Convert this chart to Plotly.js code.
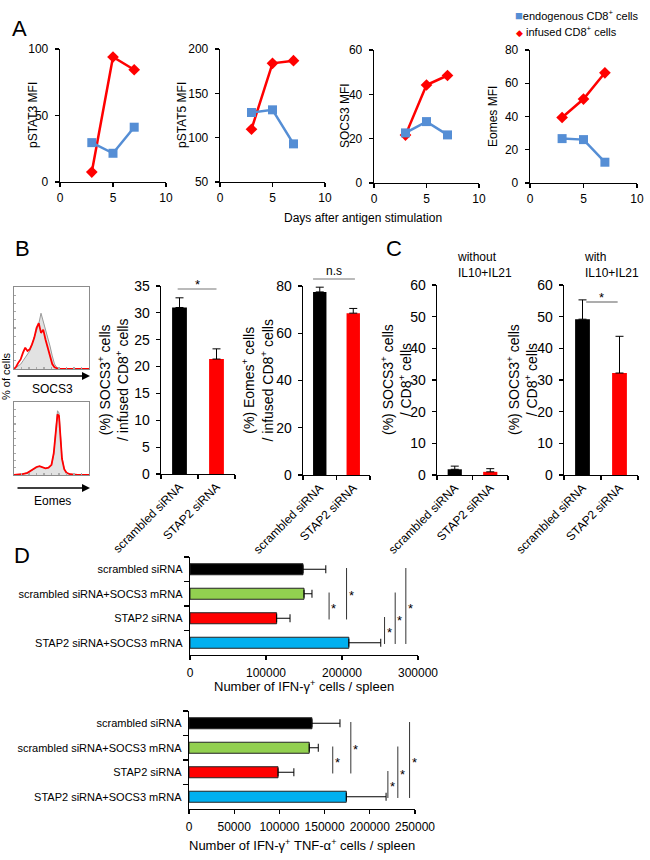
<!DOCTYPE html>
<html>
<head>
<meta charset="utf-8">
<script src="https://cdn.plot.ly/plotly-3.0.1.min.js"></script>
<style>
  html, body { margin: 0; padding: 0; background: #fff; }
  #fig { width: 650px; height: 860px; }
</style>
</head>
<body>
<div id="fig"></div>
<script>
// ---------- DATA ----------
// A: MFI over days after antigen stimulation
const days = [3, 5, 7];
const pstat3Endo = [29.6, 21.6, 41.2];
const pstat3Inf  = [7.5, 94, 84.4];
const pstat5Endo = [128.4, 131.4, 93];
const pstat5Inf  = [109.5, 183.8, 186.8];
const socs3Endo  = [22.6, 27.7, 21.7];
const socs3Inf   = [21.6, 44.2, 48.5];
const eomesEndo  = [26.7, 26.1, 12.5];
const eomesInf   = [39.4, 50.5, 66.3];

// B / C: % positive cells
const sirnaGroups  = ["scrambled siRNA", "STAP2 siRNA"];
const socs3Pct     = [31.0, 21.4];
const socs3PctErr  = [1.8, 1.9];
const eomesPct     = [77.5, 68.5];
const eomesPctErr  = [2.0, 2.0];
const withoutIL    = [1.8, 1.0];
const withoutILErr = [1.0, 1.0];
const withIL       = [49.2, 32.2];
const withILErr    = [6.1, 11.6];

// B: flow histograms (relative counts)
const histSocs3X    = [0, 3, 6, 9, 12, 15, 18, 21, 24, 27, 30, 33, 36, 39, 42, 45, 48, 51, 54, 57, 60, 100];
const histSocs3Ctrl = [0, 2, 4, 6, 10, 14, 18, 22, 30, 38, 45, 55, 68, 58, 50, 40, 28, 16, 6, 2, 0, 0];
const histSocs3Kd   = [0, 3, 8, 12, 20, 26, 22, 24, 30, 38, 50, 56, 44, 48, 36, 26, 14, 6, 2, 1, 0, 0];
const histEomesX    = [0, 10, 18, 24, 30, 34, 38, 42, 46, 50, 53, 56, 58, 60, 62, 64, 67, 70, 75, 85, 100];
const histEomesCtrl = [0, 1, 3, 7, 10, 12, 10, 9, 10, 14, 28, 60, 88, 85, 55, 24, 8, 3, 1, 0, 0];
const histEomesKd   = [0, 1, 3, 7, 11, 12, 10, 9, 10, 14, 30, 62, 83, 81, 50, 22, 8, 3, 1, 0, 0];

// D: cells per spleen
const dGroups      = ["scrambled siRNA", "scrambled siRNA+SOCS3 mRNA", "STAP2 siRNA", "STAP2 siRNA+SOCS3 mRNA"];
const ifngCells    = [148700, 150000, 114000, 209000];
const ifngErr      = [30000, 10500, 17600, 42000];
const ifngTnfCells = [136000, 133000, 98500, 174000];
const ifngTnfErr   = [31000, 10000, 17500, 44000];

// significance brackets in D: [row a, row b, x level]
const ifngSig    = [[1, 2, 183000], [0, 2, 206000], [2, 3, 256000], [1, 3, 270000], [0, 3, 284000]];
const ifngTnfSig = [[1, 2, 159000], [0, 2, 179000], [2, 3, 220000], [1, 3, 231000], [0, 3, 244000]];

// ---------- LAYOUT HELPERS ----------
const W = 650, H = 860;
const BLUE = "#558ED5", RED = "#FF0000", GREEN = "#92D050", CYAN = "#00B0F0";
const FONT = "Liberation Sans, Arial, sans-serif";

// subplot boxes in px: [left, right, top, bottom]
const sub = {
  1:  { box: [60, 166, 49, 182],  xr: [0, 10], yr: [0, 100] },
  2:  { box: [220, 325, 49, 182], xr: [0, 10], yr: [50, 200] },
  3:  { box: [374, 479, 50, 183], xr: [0, 10], yr: [0, 60] },
  4:  { box: [530, 637, 50, 183], xr: [0, 10], yr: [0, 80] },
  5:  { box: [14, 89, 287, 369],  xr: [0, 100], yr: [0, 100] },
  6:  { box: [14, 89, 402, 475],  xr: [0, 100], yr: [0, 100] },
  7:  { box: [161, 235, 286, 474], xr: [-0.5, 1.5], yr: [0, 35] },
  8:  { box: [303, 370, 286, 475], xr: [-0.5, 1.5], yr: [0, 80] },
  9:  { box: [437, 508, 285, 475], xr: [-0.5, 1.5], yr: [0, 60] },
  10: { box: [564, 638, 285, 475], xr: [-0.5, 1.5], yr: [0, 60] },
  11: { box: [190, 418, 557, 655], xr: [0, 300000], yr: [3.5, -0.5] },
  12: { box: [189, 415, 711, 809], xr: [0, 250000], yr: [3.5, -0.5] }
};
const lin = (v, r0, r1, p0, p1) => p0 + (v - r0) / (r1 - r0) * (p1 - p0);
const pX = (n, v) => lin(v, sub[n].xr[0], sub[n].xr[1], sub[n].box[0], sub[n].box[1]) / W;
const pY = (n, v) => 1 - lin(v, sub[n].yr[0], sub[n].yr[1], sub[n].box[3], sub[n].box[2]) / H;
const fx = p => p / W, fy = p => 1 - p / H;

const layout = {
  width: W, height: H,
  margin: { l: 0, r: 0, t: 0, b: 0 },
  paper_bgcolor: "#fff", plot_bgcolor: "rgba(0,0,0,0)",
  font: { family: FONT, color: "#000", size: 12 },
  showlegend: false,
  bargap: 0.6,
  annotations: [], shapes: []
};

function axes(n, xo, yo){
  const s = sub[n], k = n === 1 ? "" : n;
  const base = { showgrid: false, zeroline: false, showline: true, linecolor: "#000", linewidth: 1.3,
                 ticks: "outside", ticklen: 4, tickcolor: "#000", tickwidth: 1.2, tickangle: 0,
                 tickfont: { size: 12, color: "#000", family: FONT }, fixedrange: true };
  layout["xaxis" + k] = Object.assign({}, base, { domain: [s.box[0] / W, s.box[1] / W], range: s.xr, anchor: "y" + k }, xo);
  layout["yaxis" + k] = Object.assign({}, base, { domain: [1 - s.box[3] / H, 1 - s.box[2] / H], range: s.yr, anchor: "x" + k }, yo);
}
const ax = n => n === 1 ? ["x", "y"] : ["x" + n, "y" + n];

function note(x, y, text, o){
  layout.annotations.push(Object.assign({ xref: "paper", yref: "paper", x: x, y: y, text: text,
    xanchor: "center", yanchor: "middle",
    showarrow: false, font: { size: 12, family: FONT, color: "#000" } }, o));
}
function line(x0, y0, x1, y1, color, width){
  layout.shapes.push({ type: "line", xref: "paper", yref: "paper", x0: x0, y0: y0, x1: x1, y1: y1,
    line: { color: color || "#000", width: width || 1 } });
}

// ---------- A ----------
const traces = [];
const aPanels = [
  [1, pstat3Endo, pstat3Inf, 50],
  [2, pstat5Endo, pstat5Inf, 50],
  [3, socs3Endo, socs3Inf, 20],
  [4, eomesEndo, eomesInf, 20]
];
aPanels.forEach(([n, endo, inf, dt]) => {
  axes(n, { dtick: 5 }, { dtick: dt, ticklabelstandoff: 4 });
  const [xa, ya] = ax(n);
  traces.push({ x: days, y: inf, xaxis: xa, yaxis: ya, mode: "lines+markers", cliponaxis: false,
    line: { color: RED, width: 2.5 }, marker: { symbol: "diamond", size: 9, color: RED } });
  traces.push({ x: days, y: endo, xaxis: xa, yaxis: ya, mode: "lines+markers", cliponaxis: false,
    line: { color: BLUE, width: 2.5 }, marker: { symbol: "square", size: 9, color: BLUE } });
});
note(fx(19), fy(28), "A", { font: { size: 22, family: FONT } });
note(fx(33), fy(115), "pSTAT3 MFI", { textangle: -90 });
note(fx(182), fy(115), "pSTAT5 MFI", { textangle: -90 });
note(fx(345), fy(116), "SOCS3 MFI", { textangle: -90 });
note(fx(493), fy(116), "Eomes MFI", { textangle: -90 });
note(fx(363), fy(218), "Days after antigen stimulation");
note(fx(513), fy(15), '<span style="color:' + BLUE + ';font-size:13px">■</span>endogenous CD8<sup>+</sup> cells',
  { xanchor: "left", font: { size: 11, family: FONT } });
note(fx(514), fy(31), '<span style="color:' + RED + ';font-size:9px">◆</span> infused CD8<sup>+</sup> cells',
  { xanchor: "left", font: { size: 11, family: FONT } });

// ---------- B: histograms ----------
const histAxis = { showline: true, mirror: true, linecolor: "#8c8c8c", linewidth: 1, ticks: "inside",
                   ticklen: 2, tickcolor: "#aaa", dtick: 10, showticklabels: false };
axes(5, histAxis, histAxis);
axes(6, histAxis, histAxis);
[[5, histSocs3X, histSocs3Ctrl, histSocs3Kd], [6, histEomesX, histEomesCtrl, histEomesKd]].forEach(([n, hx, ctrl, kd]) => {
  const [xa, ya] = ax(n);
  traces.push({ x: hx, y: ctrl, xaxis: xa, yaxis: ya, mode: "lines", fill: "tozeroy",
    fillcolor: "#e2e2e2", line: { color: "#9a9a9a", width: 1 } });
  traces.push({ x: hx, y: kd, xaxis: xa, yaxis: ya, mode: "lines", line: { color: RED, width: 1.8 } });
});
note(fx(22), fy(248), "B", { font: { size: 22, family: FONT } });
note(fx(6), fy(376), "% of cells", { textangle: -90, font: { size: 11, family: FONT } });
[[376, "SOCS3", 389], [488, "Eomes", 501]].forEach(([yy, lbl, ty]) => {
  layout.annotations.push({ xref: "paper", yref: "paper", x: fx(90), y: fy(yy), ax: -74, ay: 0, text: "",
    showarrow: true, arrowhead: 2, arrowsize: 1, arrowwidth: 1.6, arrowcolor: "#000" });
  note(fx(52), fy(ty), lbl, { font: { size: 12, family: FONT } });
});

// ---------- B / C: bar charts ----------
const barPanels = [
  [7, socs3Pct, socs3PctErr, 5, "(%) SOCS3<sup>+</sup> cells<br>/ infused CD8<sup>+</sup> cells", 113],
  [8, eomesPct, eomesPctErr, 20, "(%) Eomes<sup>+</sup> cells<br>/ infused CD8<sup>+</sup> cells", 257],
  [9, withoutIL, withoutILErr, 10, "(%) SOCS3<sup>+</sup> cells<br>/ CD8<sup>+</sup> cells", 396],
  [10, withIL, withILErr, 10, "(%) SOCS3<sup>+</sup> cells<br>/ CD8<sup>+</sup> cells", 522]
];
barPanels.forEach(([n, vals, errs, dt, title, tx]) => {
  axes(n, { type: "category", tickson: "boundaries", tickangle: -45, ticklen: 4 },
          { dtick: dt, ticklen: 4, ticklabelstandoff: 3, tickfont: { size: 14, color: "#000", family: FONT } });
  const [xa, ya] = ax(n);
  traces.push({ type: "bar", x: sirnaGroups, y: vals, xaxis: xa, yaxis: ya, width: 0.4,
    marker: { color: ["#000", RED] }, cliponaxis: false,
    error_y: { type: "data", symmetric: false, array: errs, arrayminus: [0, 0], color: "#000", thickness: 1, width: 4 } });
  const s = sub[n];
  note(fx(tx), fy((s.box[2] + s.box[3]) / 2), title, { textangle: -90, font: { size: 14, family: FONT } });
});
// significance marks for B / C
line(pX(7, -0.05), fy(289), pX(7, 1), fy(289), "#777", 1.2);
note(pX(7, 0.48), fy(285), "*", { font: { size: 13, family: FONT } });
line(pX(8, -0.2), fy(279), pX(8, 1.05), fy(279), "#777", 1.2);
note(pX(8, 0.42), fy(271), "n.s", { font: { size: 12, family: FONT } });
line(pX(10, 0.1), fy(302), pX(10, 0.95), fy(302), "#777", 1.2);
note(pX(10, 0.5), fy(297), "*", { font: { size: 13, family: FONT } });

note(fx(394), fy(248), "C", { font: { size: 22, family: FONT } });
note(fx(455), fy(265), "without<br>IL10+IL21", { xanchor: "left", align: "left" });
note(fx(582), fy(265), "with<br>IL10+IL21", { xanchor: "left", align: "left" });

// ---------- D ----------
const dColors = ["#000", GREEN, RED, CYAN];
[[11, ifngCells, ifngErr, 100000, "Number of IFN-γ<sup>+</sup> cells / spleen", 686, ifngSig],
 [12, ifngTnfCells, ifngTnfErr, 50000, "Number of IFN-γ<sup>+</sup> TNF-α<sup>+</sup> cells / spleen", 845, ifngTnfSig]
].forEach(([n, vals, errs, dt, title, ty, sig]) => {
  axes(n, { dtick: dt, tickformat: "d", tickangle: 0, ticklabelstandoff: 2,
            tickfont: { size: 12, color: "#000", family: FONT } },
          { type: "category", tickson: "boundaries", ticklen: 5, ticklabelstandoff: 4,
            tickfont: { size: 11, color: "#000", family: FONT } });
  const [xa, ya] = ax(n);
  traces.push({ type: "bar", orientation: "h", x: vals, y: dGroups, xaxis: xa, yaxis: ya, width: 0.45,
    marker: { color: dColors, line: { color: "#222", width: 1 } }, cliponaxis: false,
    error_x: { type: "data", symmetric: false, array: errs, arrayminus: [0, 0, 0, 0], color: "#000", thickness: 1, width: 4 } });
  const s = sub[n];
  note(fx((s.box[0] + s.box[1]) / 2), fy(ty), title, { font: { size: 13, family: FONT } });
  sig.forEach(([a, b, xv]) => {
    line(pX(n, xv), pY(n, a - 0.05), pX(n, xv), pY(n, b + 0.05), "#333", 1);
    note(pX(n, xv), (pY(n, a) + pY(n, b)) / 2, "*", { xanchor: "left", xshift: 0, yshift: -2, font: { size: 13, family: FONT } });
  });
});
note(fx(22), fy(555), "D", { font: { size: 22, family: FONT } });

Plotly.newPlot("fig", traces, layout, { displayModeBar: false, staticPlot: true });
</script>
</body>
</html>
